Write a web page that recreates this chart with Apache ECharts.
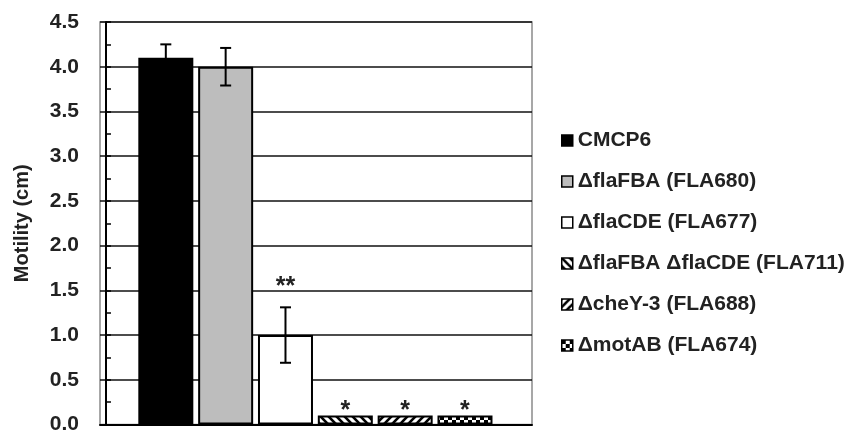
<!DOCTYPE html>
<html>
<head>
<meta charset="utf-8">
<script src="https://cdn.jsdelivr.net/npm/echarts@6/dist/echarts.min.js"></script>
<style>
  html, body { margin: 0; padding: 0; background: #fff; }
  #chart-container { width: 846px; height: 435px; }
</style>
</head>
<body>
<div id="chart-container"></div>
<script>
const strains = ['CMCP6', 'ΔflaFBA (FLA680)', 'ΔflaCDE (FLA677)', 'ΔflaFBA ΔflaCDE (FLA711)', 'ΔcheY-3 (FLA688)', 'ΔmotAB (FLA674)'];
const positions = [1, 2, 3, 4, 5, 6];
const motility = [4.1, 4.0, 1.0, 0.1, 0.1, 0.1];
const errors = [0.15, 0.21, 0.31, 0, 0, 0];
const sigLabels = ['', '', '**', '*', '*', '*'];
const yTicks = [0, 0.5, 1.0, 1.5, 2.0, 2.5, 3.0, 3.5, 4.0, 4.5];

const FONT = "'Liberation Sans', Arial, sans-serif";

// small tiled fills for the hatched bars
const makePattern = (kind) => {
  const c = document.createElement('canvas');
  c.width = 8;
  c.height = 8;
  const ctx = c.getContext('2d');
  ctx.fillStyle = '#fff';
  ctx.fillRect(0, 0, 8, 8);
  ctx.fillStyle = '#000';
  ctx.strokeStyle = '#000';
  if (kind === 'checker') {
    ctx.fillRect(0, 0, 4, 4);
    ctx.fillRect(4, 4, 4, 4);
    return c;
  }
  ctx.lineWidth = 2.6;
  const segs = kind === 'back'
    ? [[-4, -4, 12, 12], [-4, 4, 4, 12], [4, -4, 12, 4]]
    : [[-4, 12, 12, -4], [-4, 4, 4, -4], [4, 12, 12, 4]];
  segs.forEach(([x1, y1, x2, y2]) => {
    ctx.beginPath();
    ctx.moveTo(x1, y1);
    ctx.lineTo(x2, y2);
    ctx.stroke();
  });
  return c;
};

const fills = [
  '#000000',
  '#bdbdbd',
  '#ffffff',
  { image: makePattern('back'), repeat: 'repeat' },
  { image: makePattern('fwd'), repeat: 'repeat' },
  { image: makePattern('checker'), repeat: 'repeat' }
];

const dom = document.getElementById('chart-container');
const myChart = echarts.init(dom, null, { renderer: 'canvas' });

const barSeries = strains.map((name, i) => ({
  name,
  type: 'bar',
  stack: 'all',
  barWidth: 55,
  data: [[positions[i], motility[i]]],
  itemStyle: { color: fills[i], borderColor: '#000', borderWidth: 2 },
  emphasis: { disabled: true },
  z: 2
}));

const errorSeries = {
  type: 'custom',
  silent: true,
  z: 5,
  data: positions.map((p, i) => [p, motility[i]]),
  renderItem(params, api) {
    const i = params.dataIndex;
    const x = api.coord([positions[i], 0])[0];
    const err = errors[i];
    const children = [];
    let topY = api.coord([positions[i], motility[i]])[1];
    if (err > 0) {
      const hi = api.coord([positions[i], motility[i] + err])[1];
      const lo = api.coord([positions[i], motility[i] - err])[1];
      const cap = 5.5;
      const st = { stroke: '#000', lineWidth: 2 };
      children.push(
        { type: 'line', shape: { x1: x, y1: hi, x2: x, y2: lo }, style: st },
        { type: 'line', shape: { x1: x - cap, y1: hi, x2: x + cap, y2: hi }, style: st },
        { type: 'line', shape: { x1: x - cap, y1: lo, x2: x + cap, y2: lo }, style: st }
      );
      topY = hi;
    }
    if (sigLabels[i]) {
      children.push({
        type: 'text',
        style: {
          text: sigLabels[i],
          x,
          y: topY - (err > 0 ? 20 : 4),
          align: 'center',
          verticalAlign: 'middle',
          font: `bold 25px ${FONT}`,
          fill: '#222'
        }
      });
    }
    return { type: 'group', children };
  }
};

const option = {
  animation: false,
  textStyle: { fontFamily: FONT },
  grid: {
    left: 100,
    right: 314,
    top: 22,
    bottom: 9,
    show: true,
    borderColor: '#8a8a8a',
    borderWidth: 1.5,
    backgroundColor: 'transparent'
  },
  legend: {
    orient: 'vertical',
    left: 556,
    top: 125,
    padding: 5,
    icon: 'rect',
    itemWidth: 11,
    itemHeight: 11,
    itemGap: 20,
    data: strains,
    selectedMode: false,
    itemStyle: { borderColor: '#000', borderWidth: 1.5 },
    textStyle: {
      fontFamily: FONT,
      fontSize: 21,
      fontWeight: 'bold',
      color: '#222',
      lineHeight: 21
    }
  },
  xAxis: {
    type: 'value',
    min: -0.1,
    max: 7.12,
    axisLine: { show: true, lineStyle: { color: '#000', width: 2 } },
    axisTick: { show: false },
    axisLabel: { show: false },
    splitLine: { show: false }
  },
  yAxis: {
    type: 'value',
    min: yTicks[0],
    max: yTicks[yTicks.length - 1],
    interval: 0.5,
    name: 'Motility (cm)',
    nameLocation: 'middle',
    nameGap: 68,
    nameTextStyle: { fontFamily: FONT, fontSize: 20, fontWeight: 'bold', color: '#222' },
    axisLine: { show: true, lineStyle: { color: '#000', width: 2 } },
    axisTick: { show: true, inside: true, length: 5, lineStyle: { color: '#000', width: 1.5 } },
    minorTick: { show: true, splitNumber: 2, length: 5, lineStyle: { color: '#000', width: 1.5 } },
    axisLabel: {
      margin: 21,
      fontFamily: FONT,
      fontSize: 21,
      fontWeight: 'bold',
      color: '#222',
      formatter: (v) => v.toFixed(1)
    },
    splitLine: { show: true, lineStyle: { color: '#111', width: 1.5 } }
  },
  series: [...barSeries, errorSeries]
};

myChart.setOption(option);
window.addEventListener('resize', myChart.resize);
</script>
</body>
</html>
